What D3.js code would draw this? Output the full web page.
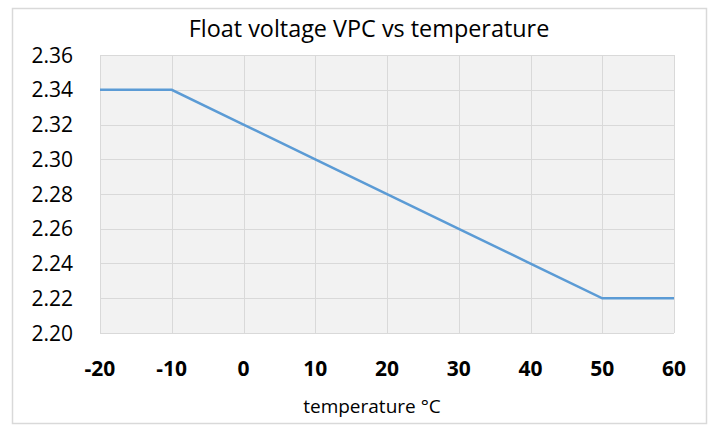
<!DOCTYPE html>
<html>
<head>
<meta charset="utf-8">
<script src="https://cdn.jsdelivr.net/npm/d3@7"></script>
<style>
  body { margin: 0; background: #fff; }
  text { font-family: "Open Sans", sans-serif; fill: #000; }
</style>
</head>
<body>
<div class="chart"></div>
<script>
const temps = [-20, -10, 0, 10, 20, 30, 40, 50, 60]
const vpc = [2.34, 2.34, 2.32, 2.30, 2.28, 2.26, 2.24, 2.22, 2.22]
const yTicks = [2.20, 2.22, 2.24, 2.26, 2.28, 2.30, 2.32, 2.34, 2.36]
const xTicks = [-20, -10, 0, 10, 20, 30, 40, 50, 60]

const width = 710
const height = 425
const margin = {top: 55, right: 36, bottom: 92, left: 100}

const svg = d3.select('.chart')
  .append('svg')
  .attr('width', width)
  .attr('height', height)

// outer chart border
svg.append('rect')
  .attr('x', 12.5).attr('y', 8.5)
  .attr('width', 694).attr('height', 415)
  .attr('fill', '#fff')
  .attr('stroke', '#d9d9d9')
  .attr('stroke-width', 1.5)

const x = d3.scaleLinear()
  .domain([-20, 60])
  .range([margin.left, width - margin.right])

const y = d3.scaleLinear()
  .domain([2.20, 2.36])
  .range([height - margin.bottom, margin.top])

const g = svg.append('g')

g.append('rect')
  .attr('x', x(-20)).attr('y', y(2.36))
  .attr('width', x(60) - x(-20)).attr('height', y(2.20) - y(2.36))
  .attr('fill', '#f2f2f2')

// gridlines
g.selectAll('line.hgrid')
  .data(yTicks)
  .enter().append('line')
    .attr('class', 'hgrid')
    .attr('x1', x(-20)).attr('x2', x(60))
    .attr('y1', d => Math.round(y(d)) + 0.5).attr('y2', d => Math.round(y(d)) + 0.5)
    .attr('stroke', '#d9d9d9')

g.selectAll('line.vgrid')
  .data(xTicks)
  .enter().append('line')
    .attr('class', 'vgrid')
    .attr('y1', y(2.20)).attr('y2', y(2.36))
    .attr('x1', d => Math.round(x(d)) + 0.5).attr('x2', d => Math.round(x(d)) + 0.5)
    .attr('stroke', '#d9d9d9')

// y labels
g.selectAll('text.ylab')
  .data(yTicks)
  .enter().append('text')
    .attr('class', 'ylab')
    .attr('x', 73)
    .attr('y', d => y(d) + 2)
    .attr('text-anchor', 'end')
    .attr('dominant-baseline', 'middle')
    .style('font-size', '21px')
    .text(d => d.toFixed(2))

// x labels
g.selectAll('text.xlab')
  .data(xTicks)
  .enter().append('text')
    .attr('class', 'xlab')
    .attr('x', d => x(d))
    .attr('y', 370)
    .attr('text-anchor', 'middle')
    .attr('dominant-baseline', 'middle')
    .style('font-size', '21px')
    .style('font-weight', 'bold')
    .text(d => d)

const line = d3.line()
  .x((d, i) => x(temps[i]))
  .y(d => y(d))

g.append('path')
  .datum(vpc)
  .attr('d', line)
  .attr('fill', 'none')
  .attr('stroke', '#5b9bd5')
  .attr('stroke-width', 2.5)

svg.append('text')
  .attr('x', 369).attr('y', 31)
  .attr('text-anchor', 'middle')
  .attr('dominant-baseline', 'middle')
  .style('font-size', '23.4px')
  .text('Float voltage VPC vs temperature')

svg.append('text')
  .attr('x', 372).attr('y', 408)
  .attr('text-anchor', 'middle')
  .attr('dominant-baseline', 'middle')
  .style('font-size', '19px')
  .text('temperature °C')
</script>
</body>
</html>
